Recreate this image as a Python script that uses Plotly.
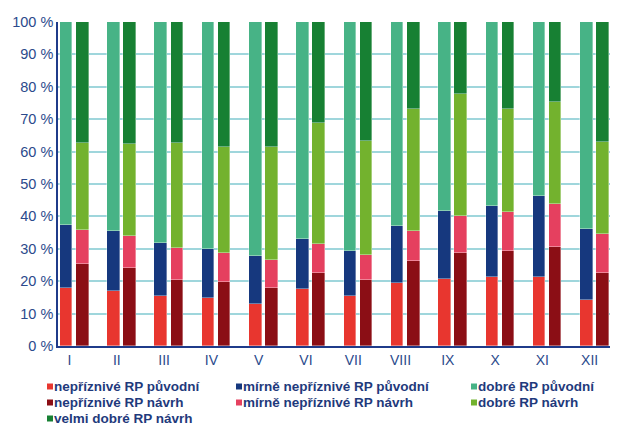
import plotly.graph_objects as go

months = ["I", "II", "III", "IV", "V", "VI", "VII", "VIII", "IX", "X", "XI", "XII"]

# shares in % for the original variant (původní)
neprizn_puv = [18.0, 17.0, 15.5, 14.9, 13.0, 17.7, 15.3, 19.5, 20.7, 21.3, 21.3, 14.3]
mirne_puv = [19.4, 18.6, 16.4, 15.1, 14.8, 15.4, 14.1, 17.6, 21.1, 22.0, 25.1, 21.9]
dobre_puv = [62.6, 64.4, 68.1, 70.0, 72.2, 66.9, 70.6, 62.9, 58.2, 56.7, 53.6, 63.8]

# shares in % for the proposed variant (návrh)
neprizn_nav = [25.3, 24.0, 20.4, 19.8, 17.9, 22.6, 20.4, 26.3, 28.8, 29.2, 30.5, 22.6]
mirne_nav = [10.6, 10.1, 9.9, 8.9, 8.5, 9.0, 7.6, 9.2, 11.4, 12.2, 13.4, 12.0]
dobre_nav = [26.8, 28.4, 32.5, 32.8, 35.0, 37.3, 35.4, 37.5, 37.5, 31.9, 31.5, 28.5]
velmi_dobre_nav = [37.3, 37.5, 37.2, 38.5, 38.6, 31.1, 36.6, 27.0, 22.3, 26.7, 24.6, 36.9]

y_ticks = list(range(0, 101, 10))

W, H = 625, 425
L, R, T, B = 58, 15, 22, 79
TEXT = "#2b4a8c"

idx = list(range(len(months)))
x_puv = [i - 0.07 for i in idx]
x_nav = [i + 0.27 for i in idx]
bar_w = 0.265

series = [
    ("nepříznivé RP původní", x_puv, neprizn_puv, "#e8362f"),
    ("mírně nepříznivé RP původní", x_puv, mirne_puv, "#16387e"),
    ("dobré RP původní", x_puv, dobre_puv, "#47b386"),
    ("nepříznivé RP návrh", x_nav, neprizn_nav, "#8b0e15"),
    ("mírně nepříznivé RP návrh", x_nav, mirne_nav, "#e5405f"),
    ("dobré RP návrh", x_nav, dobre_nav, "#73b22e"),
    ("velmi dobré RP návrh", x_nav, velmi_dobre_nav, "#178033"),
]

fig = go.Figure()
for name, xs, vals, col in series:
    fig.add_trace(go.Bar(
        x=xs, y=vals, name=name, width=bar_w,
        marker=dict(color=col, line=dict(color="rgba(255,255,255,0.45)", width=0.8)),
        showlegend=False,
    ))

# hand-laid legend in three columns
def px_x(p):
    return (p - L) / (W - L - R)

def px_y(p):
    return (H - B - p) / (H - T - B)

cols = [47, 236, 471]
rows = [386.5, 402.5, 418.5]
shapes = []
annotations = []
for k, (name, _, _, col) in enumerate(series):
    cx = cols[k % 3]
    cy = rows[k // 3]
    shapes.append(dict(
        type="rect", xref="paper", yref="paper",
        x0=px_x(cx), x1=px_x(cx + 6), y0=px_y(cy - 3), y1=px_y(cy + 3),
        fillcolor=col, line=dict(width=0),
    ))
    annotations.append(dict(
        xref="paper", yref="paper", x=px_x(cx + 5.5), y=px_y(cy),
        xanchor="left", yanchor="middle", showarrow=False,
        borderpad=0,
        text="<b>%s</b>" % name,
        font=dict(family="Liberation Sans, Arial", size=13.5, color="#1f3a7c"),
    ))

fig.update_layout(
    width=W, height=H,
    margin=dict(l=L, r=R, t=T, b=B),
    paper_bgcolor="white", plot_bgcolor="white",
    barmode="stack", bargap=0,
    font=dict(family="Liberation Sans, Arial", size=14, color=TEXT),
    shapes=shapes, annotations=annotations,
    xaxis=dict(
        range=[-0.243, 11.43], tickvals=idx, ticktext=months,
        showgrid=False, zeroline=False, showline=True,
        linecolor="#1f3b8a", linewidth=2, ticks="",
        tickfont=dict(size=14, color=TEXT),
    ),
    yaxis=dict(
        range=[0, 100], tickvals=y_ticks, ticktext=["%d %%" % v for v in y_ticks],
        showgrid=True, gridcolor="#9fd6dc", gridwidth=1.5,
        zeroline=False, showline=True, linecolor="#1f3b8a", linewidth=1.5,
        ticks="", tickfont=dict(size=14.5, color=TEXT),
    ),
)

fig.write_html("out.html")
